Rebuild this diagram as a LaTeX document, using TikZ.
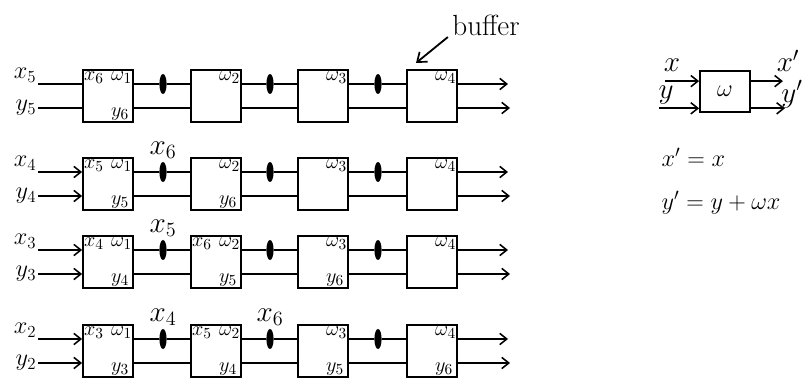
\documentclass[tikz,border=0pt]{standalone}
\usepackage{tikz}
\usetikzlibrary{arrows.meta,positioning,shapes.geometric}

\tikzset{
  cell/.style={draw, line width=1.3pt, minimum width=1.25cm, minimum height=1.28cm, inner sep=0pt},
  buf/.style={ellipse, fill=black, minimum width=0.18cm, minimum height=0.5cm, inner sep=0pt},
  wire/.style={line width=1.3pt},
  feed/.style={wire, -{Straight Barb[length=5pt,width=8pt,line width=1.1pt]}},
  lab/.style={font=\huge, inner sep=1pt},
  rowlab/.style={font=\LARGE, inner sep=1pt},
  inlab/.style={font=\fontsize{15}{17}\selectfont, inner sep=1.2pt},
}

\begin{document}
\begin{tikzpicture}[x=0.025cm, y=-0.025cm]
\useasboundingbox (0,0) rectangle (802,379);

% four pipelines of cells, x wire on top, y wire below
\foreach \r/\yy/\ins in {1/96/wire, 2/184/feed, 3/262/feed, 4/351/feed}{
  \pgfmathtruncatemacro{\k}{6-\r}
  \foreach \c/\xx in {1/108, 2/216, 3/323, 4/432}
    \node[cell] (b\r\c) at (\xx,\yy) {};
  \foreach \c/\xx in {1/163, 2/270, 3/378}
    \node[buf] (buf\r\c) at (\xx,\yy-12) {};
  \node[rowlab, anchor=south east] (ix\r) at (38,\yy-12) {$x_{\k}$};
  \node[rowlab, anchor=east] (iy\r) at (38,\yy+12) {$y_{\k}$};
  \draw[\ins] (ix\r.south east) -- ([yshift=.3cm]b\r1.west);
  \draw[\ins] (iy\r.east) -- ([yshift=-.3cm]b\r1.west);
  \foreach \c in {1,2,3}{
    \pgfmathtruncatemacro{\n}{\c+1}
    \draw[wire] ([yshift=.3cm]b\r\c.east) -- (buf\r\c) -- ([yshift=.3cm]b\r\n.west);
    \draw[wire] ([yshift=-.3cm]b\r\c.east) -- ([yshift=-.3cm]b\r\n.west);
  }
  \coordinate (ox\r) at (508,\yy-12);
  \coordinate (oy\r) at (510,\yy+12);
  \draw[feed] ([yshift=.3cm]b\r4.east) -- (ox\r);
  \draw[feed] ([yshift=-.3cm]b\r4.east) -- (oy\r);
  \foreach \c in {1,...,4}
    \node[inlab, anchor=north east] (wl\r\c) at (b\r\c.north east) {$\omega_{\c}$};
}

% stored x and y values inside the cells
\foreach \r/\c/\t in {1/1/x_6, 2/1/x_5, 3/1/x_4, 3/2/x_6, 4/1/x_3, 4/2/x_5}
  \node[inlab, anchor=north west] (xl\r\c) at (b\r\c.north west) {$\t$};
\foreach \r/\c/\t in {1/1/y_6, 2/1/y_5, 2/2/y_6, 3/1/y_4, 3/2/y_5, 3/3/y_6, 4/1/y_3, 4/2/y_4, 4/3/y_5, 4/4/y_6}
  \node[inlab, anchor=south east, xshift=-2pt] (yl\r\c) at (b\r\c.south east) {$\t$};

% values held in the buffers
\foreach \r/\c/\t in {2/1/x_6, 3/1/x_5, 4/1/x_4, 4/2/x_6}
  \node[lab, above=1pt of buf\r\c] (bl\r\c) {$\t$};

\node[font=\huge, inner sep=1pt] (note) at (486,25) {buffer};
\coordinate (notetip) at (416,63);
\draw[wire, -{Straight Barb[length=6pt,width=9pt,line width=1.2pt]}] ([xshift=-2pt]note.south west) -- (notetip);

% one cell on its own
\node[cell, minimum height=1.03cm, font=\LARGE, anchor=north] (lg) at (725,70) {$\omega$};
\node[lab] (lx) at (672,65) {$x$};
\node[lab] (ly) at (666,95) {$y$};
\coordinate (lxs) at ([xshift=-.85cm, yshift=.26cm]lg.west);
\coordinate (lys) at ([xshift=-1cm, yshift=-.42cm]lg.west);
\coordinate (lxo) at ([xshift=.8cm, yshift=.26cm]lg.east);
\coordinate (lyo) at ([xshift=.85cm, yshift=-.42cm]lg.east);
\draw[feed] (lxs) -- ([yshift=.26cm]lg.west);
\draw[feed] (lys) -- ([yshift=-.42cm]lg.west);
\draw[feed] ([yshift=.26cm]lg.east) -- (lxo);
\draw[feed] ([yshift=-.42cm]lg.east) -- (lyo);
\node[lab] (lxp) at (788,61) {$x'$};
\node[lab] (lyp) at (792,94) {$y'$};
\node[lab, font=\LARGE, anchor=west] (eqx) at (660,157) {$x' = x$};
\node[lab, font=\LARGE, anchor=west] (eqy) at (660,203) {$y' = y + \omega x$};
\end{tikzpicture}
\end{document}
